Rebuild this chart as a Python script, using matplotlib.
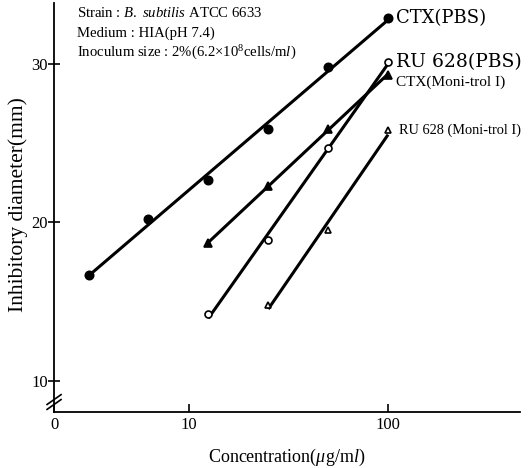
"""
Inhibitory diameter vs. concentration (B. subtilis ATCC 6633)
"""

import matplotlib
matplotlib.use('Agg')
import matplotlib.pyplot as plt
import numpy as np

#---------------------------------------------------------------------------------------------------
# Data
#---------------------------------------------------------------------------------------------------

ctx_pbs_conc = [3.125, 6.25, 12.5, 25, 50, 100]
ctx_pbs_diam = [16.7, 20.2, 22.7, 25.9, 29.8, 32.9]

ru_pbs_conc = [12.5, 25, 50, 100]
ru_pbs_diam = [14.2, 18.9, 24.7, 30.1]

ctx_mon_conc = [12.5, 25, 50, 100]
ctx_mon_diam = [18.7, 22.3, 25.9, 29.3]

ru_mon_conc = [25, 50, 100]
ru_mon_diam = [14.8, 19.5, 25.8]

series_labels = ['CTX(PBS)', 'RU 628(PBS)', 'CTX(Moni-trol I)', 'RU 628 (Moni-trol I)']

x_ticklabels = ['0', '10', '100']
y_ticks = [10, 20, 30]

info_lines = [r'Strain : $\it{B.\ subtilis}$ ATCC 6633',
              'Medium : HIA(pH 7.4)',
              r'Inoculum size : 2%(6.2$\times$10$^8$cells/m$\it{l}$)']

#---------------------------------------------------------------------------------------------------
# Plot
#---------------------------------------------------------------------------------------------------

plt.rcParams['font.family'] = ['Liberation Serif', 'DejaVu Serif']
plt.rcParams['mathtext.fontset'] = 'custom'
plt.rcParams['mathtext.rm'] = 'Liberation Serif'
plt.rcParams['mathtext.it'] = 'Liberation Serif:italic'

fig = plt.figure(figsize=(5.30, 4.68), dpi=100)
ax = fig.add_axes([0.102, 0.12, 0.879, 0.874])

xmin, xmax = 2.097, 460

styles = [dict(marker='o', mfc='k', ms=6, fs=13, dx=6, fam='DejaVu Serif'),
          dict(marker='o', mfc='w', ms=5, fs=13.5, dx=6, fam='DejaVu Serif'),
          dict(marker='^', mfc='k', ms=6, fs=11, dx=6, fam='Liberation Serif'),
          dict(marker='^', mfc='w', ms=5, fs=10.4, dx=8, fam='Liberation Serif')]
text_dy = [0, 0, -5, 0]

series = [(ctx_pbs_conc, ctx_pbs_diam), (ru_pbs_conc, ru_pbs_diam),
          (ctx_mon_conc, ctx_mon_diam), (ru_mon_conc, ru_mon_diam)]

for (conc, diam), st, lab, dy in zip(series, styles, series_labels, text_dy):
    conc = np.array(conc)
    diam = np.array(diam)
    # least-squares line on log concentration
    m, b = np.polyfit(np.log10(conc), diam, 1)
    xx = np.array([conc.min(), conc.max()])
    ax.plot(xx, m*np.log10(xx) + b, 'k-', lw=2.2, solid_capstyle='butt')
    ax.plot(conc, diam, ls='none', marker=st['marker'], mfc=st['mfc'], mec='k',
            mew=1.2, ms=st['ms'])
    ax.annotate(lab, xy=(conc[-1], diam[-1]), xytext=(st['dx'], dy),
                textcoords='offset points', va='center', ha='left', fontsize=st['fs'],
                family=st['fam'])

ax.set_xscale('log')
ax.set_xlim(xmin, xmax)
ax.set_ylim(8.05, 33.85)
ax.set_xticks([xmin, 10, 100])
ax.set_xticklabels(x_ticklabels)
ax.xaxis.set_minor_locator(matplotlib.ticker.NullLocator())
ax.set_yticks(y_ticks)
ax.tick_params(axis='both', direction='in', length=6, width=1.2, labelsize=12)
ax.tick_params(axis='y', direction='inout', length=8, pad=0.5)

for s in ['top', 'right']:
    ax.spines[s].set_visible(False)
for s in ['left', 'bottom']:
    ax.spines[s].set_linewidth(1.3)

# axis break marks on y-axis
for dy in [0.018, 0.030]:
    ax.plot([-0.015, 0.015], [dy - 0.012, dy + 0.012], 'k-', lw=1.2,
            transform=ax.transAxes, clip_on=False)

ax.set_ylabel('Inhibitory diameter(mm)', fontsize=15.5, va='center')
ax.yaxis.set_label_coords(-0.077, 0.506)
ax.set_xlabel(r'Concentration($\mu$g/m$\it{l}$)', fontsize=13, labelpad=10)

for i, line in enumerate(info_lines):
    ax.text(0.05, 0.975 - i*0.049, line, transform=ax.transAxes, fontsize=10.6,
            va='center', ha='left')

fig.savefig('out.png', dpi=100)
